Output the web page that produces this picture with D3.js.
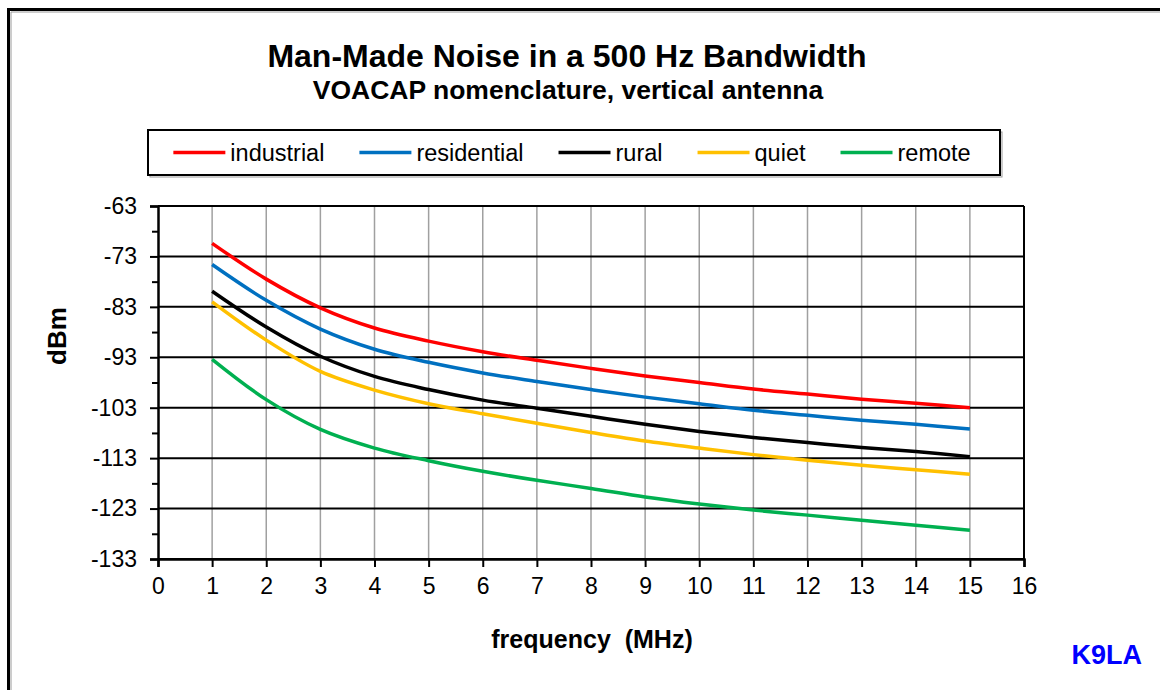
<!DOCTYPE html>
<html>
<head>
<meta charset="utf-8">
<script src="https://cdn.jsdelivr.net/npm/d3@7"></script>
<style>
  html, body { margin: 0; padding: 0; background: #fff; }
  svg { display: block; font-family: "Liberation Sans", Arial, sans-serif; }
</style>
</head>
<body>
<svg id="chart" width="1160" height="690"></svg>
<script>
// ---- data ----
const frequencies = [1, 2, 3, 4, 5, 6, 7, 8, 9, 10, 11, 12, 13, 14, 15];
const seriesNames = ["industrial", "residential", "rural", "quiet", "remote"];
const seriesColors = ["#ff0000", "#0070c0", "#000000", "#ffc000", "#00b050"];
const industrial  = [-70.4, -77.5, -83.2, -87.2, -89.8, -91.9, -93.6, -95.2, -96.7, -98.0, -99.3, -100.3, -101.3, -102.1, -103.0];
const residential = [-74.6, -81.7, -87.4, -91.4, -94.0, -96.1, -97.8, -99.4, -100.9, -102.2, -103.5, -104.5, -105.5, -106.3, -107.2];
const rural       = [-79.9, -87.0, -92.8, -96.8, -99.4, -101.5, -103.1, -104.7, -106.3, -107.7, -108.9, -109.9, -110.9, -111.7, -112.7];
const quiet       = [-82.0, -89.6, -95.8, -99.5, -102.2, -104.2, -106.1, -107.9, -109.6, -111.0, -112.3, -113.4, -114.4, -115.3, -116.2];
const remote      = [-93.4, -101.4, -107.3, -111.0, -113.5, -115.6, -117.4, -119.0, -120.7, -122.1, -123.3, -124.3, -125.3, -126.3, -127.3];
const seriesValues = [industrial, residential, rural, quiet, remote];
const xTicks = [0, 1, 2, 3, 4, 5, 6, 7, 8, 9, 10, 11, 12, 13, 14, 15, 16];
const yTicks = [-63, -73, -83, -93, -103, -113, -123, -133];
const yMinorTicks = [-68, -78, -88, -98, -108, -118, -128];
const titleText = "Man-Made Noise in a 500 Hz Bandwidth";
const subtitleText = "VOACAP nomenclature, vertical antenna";
const xLabel = "frequency  (MHz)";
const yLabel = "dBm";
const creditText = "K9LA";

// ---- layout ----
const svg = d3.select("#chart");
const plot = { left: 158, right: 1024, top: 206, bottom: 559 };

const x = d3.scaleLinear().domain([0, 16]).range([plot.left, plot.right]);
const y = d3.scaleLinear().domain([-133, -63]).range([plot.bottom, plot.top]);
const FONT = "Liberation Sans, Arial, sans-serif";

// outer frame (left and top edges visible)
svg.append("path")
  .attr("d", "M11,690 L11,12 L1160,12")
  .attr("fill", "none").attr("stroke", "#9a9a9a").attr("stroke-width", 1);
svg.append("path")
  .attr("d", "M8.5,690 L8.5,9.5 L1160,9.5")
  .attr("fill", "none").attr("stroke", "#000").attr("stroke-width", 3);

// title
svg.append("text").attr("x", 567).attr("y", 67).attr("text-anchor", "middle")
  .attr("font-weight", "bold").attr("font-size", 32).attr("fill", "#000").text(titleText);
svg.append("text").attr("x", 568).attr("y", 99).attr("text-anchor", "middle")
  .attr("font-weight", "bold").attr("font-size", 26.5)
  .attr("fill", "#000").text(subtitleText);

// vertical gridlines
const g = svg.append("g");
g.selectAll("line.vgrid").data(xTicks.filter(d => d > 0 && d < 16)).enter().append("line")
  .attr("class", "vgrid")
  .attr("x1", d => x(d)).attr("x2", d => x(d))
  .attr("y1", plot.top).attr("y2", plot.bottom)
  .attr("stroke", "#a0a0a0").attr("stroke-width", 1.5);

// horizontal gridlines
g.selectAll("line.hgrid").data(yTicks).enter().append("line")
  .attr("class", "hgrid")
  .attr("x1", plot.left).attr("x2", plot.right)
  .attr("y1", d => y(d)).attr("y2", d => y(d))
  .attr("stroke", "#000").attr("stroke-width", 2);

// right border
g.append("line").attr("x1", x(16)).attr("x2", x(16)).attr("y1", plot.top).attr("y2", plot.bottom)
  .attr("stroke", "#000").attr("stroke-width", 2);

// y axis
const yAxis = d3.axisLeft(y).tickValues(yTicks).tickSize(8).tickPadding(13).tickFormat(d => d);
const yG = svg.append("g").attr("transform", `translate(${plot.left},0)`).call(yAxis);
yG.attr("font-size", 23).attr("font-family", FONT);
yG.select(".domain").attr("stroke", "#000").attr("stroke-width", 2.5);
yG.selectAll(".tick line").attr("stroke", "#000").attr("stroke-width", 2);
yG.selectAll(".tick text").attr("fill", "#000");
const yMinor = d3.axisLeft(y).tickValues(yMinorTicks).tickSize(6).tickFormat("");
const yMG = svg.append("g").attr("transform", `translate(${plot.left},0)`).call(yMinor);
yMG.select(".domain").remove();
yMG.selectAll(".tick line").attr("stroke", "#000").attr("stroke-width", 2);

// x axis
const xAxis = d3.axisBottom(x).tickValues(xTicks).tickSize(8).tickPadding(11).tickFormat(d => d);
const xG = svg.append("g").attr("transform", `translate(0,${plot.bottom})`).call(xAxis);
xG.attr("font-size", 23).attr("font-family", FONT);
xG.select(".domain").attr("stroke", "#000").attr("stroke-width", 2.5);
xG.selectAll(".tick line").attr("stroke", "#000").attr("stroke-width", 2);
xG.selectAll(".tick text").attr("fill", "#000");

// lines
const line = d3.line().x((d, i) => x(frequencies[i])).y(d => y(d)).curve(d3.curveCatmullRom.alpha(0.5));
svg.append("g").selectAll("path.series").data(seriesValues).enter().append("path")
  .attr("class", "series")
  .attr("d", d => line(d))
  .attr("fill", "none")
  .attr("stroke", (d, i) => seriesColors[i])
  .attr("stroke-width", 3.5)
  .attr("stroke-linecap", "butt");

// axis labels
svg.append("text").attr("transform", "translate(66,336) rotate(-90)").attr("text-anchor", "middle")
  .attr("font-weight", "bold").attr("font-size", 26).attr("fill", "#000").text(yLabel);
svg.append("text").attr("x", 592).attr("y", 648).attr("text-anchor", "middle")
  .attr("font-weight", "bold").attr("font-size", 25).attr("fill", "#000")
  .attr("xml:space", "preserve").style("white-space", "pre").text(xLabel);
svg.append("text").attr("x", 1142).attr("y", 664).attr("text-anchor", "end")
  .attr("font-weight", "bold").attr("font-size", 27).attr("fill", "#0000ff").text(creditText);

// legend
const legendBox = { x: 148, y: 130, w: 852, h: 45 };
svg.append("rect").attr("x", legendBox.x + 2).attr("y", legendBox.y + 2)
  .attr("width", legendBox.w).attr("height", legendBox.h)
  .attr("fill", "none").attr("stroke", "#999").attr("stroke-width", 1);
svg.append("rect").attr("x", legendBox.x).attr("y", legendBox.y)
  .attr("width", legendBox.w).attr("height", legendBox.h)
  .attr("fill", "#fff").attr("stroke", "#000").attr("stroke-width", 2);
const lg = svg.append("g");
const lineLen = 52, gapText = 5, gapItem = 35;
const items = lg.selectAll("g.item").data(seriesNames).enter().append("g").attr("class", "item");
items.append("line").attr("x1", 0).attr("x2", lineLen).attr("y1", 0).attr("y2", 0)
  .attr("stroke", (d, i) => seriesColors[i]).attr("stroke-width", 3.5);
items.append("text").attr("x", lineLen + gapText).attr("y", 8)
  .attr("font-size", 23.5).attr("fill", "#000").text(d => d);
let total = 0;
const widths = [];
items.each(function () {
  const w = lineLen + gapText + this.querySelector("text").getComputedTextLength();
  widths.push(w);
  total += w;
});
total += gapItem * (seriesNames.length - 1);
let cx = legendBox.x + (legendBox.w - total) / 2 - 2;
items.each(function (d, i) {
  d3.select(this).attr("transform", `translate(${cx},${legendBox.y + legendBox.h / 2})`);
  cx += widths[i] + gapItem;
});
</script>
</body>
</html>
